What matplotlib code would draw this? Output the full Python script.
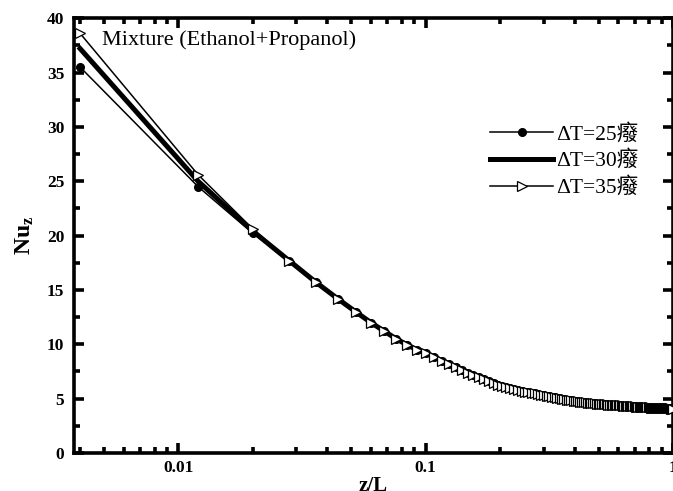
import matplotlib
matplotlib.use("Agg")
import matplotlib.pyplot as plt
import matplotlib.ticker as ticker

# 軸向位置 z/L
z_L = [0.004, 0.012, 0.020, 0.028, 0.036, 0.044, 0.052, 0.060, 0.068, 0.076,
       0.084, 0.092, 0.100, 0.108, 0.116, 0.124, 0.132, 0.140, 0.148, 0.156,
       0.164, 0.172, 0.180, 0.188, 0.196, 0.204, 0.212, 0.220, 0.228, 0.236,
       0.244, 0.252, 0.260, 0.268, 0.276, 0.284, 0.292, 0.300, 0.308, 0.316,
       0.324, 0.332, 0.340, 0.348, 0.356, 0.364, 0.372, 0.380, 0.388, 0.396,
       0.404, 0.412, 0.420, 0.428, 0.436, 0.444, 0.452, 0.460, 0.468, 0.476,
       0.484, 0.492, 0.500, 0.508, 0.516, 0.524, 0.532, 0.540, 0.548, 0.556,
       0.564, 0.572, 0.580, 0.588, 0.596, 0.604, 0.612, 0.620, 0.628, 0.636,
       0.644, 0.652, 0.660, 0.668, 0.676, 0.684, 0.692, 0.700, 0.708, 0.716,
       0.724, 0.732, 0.740, 0.748, 0.756, 0.764, 0.772, 0.780, 0.788, 0.796,
       0.804, 0.812, 0.820, 0.828, 0.836, 0.844, 0.852, 0.860, 0.868, 0.876,
       0.884, 0.892, 0.900, 0.908, 0.916, 0.924, 0.932, 0.940, 0.948, 0.956,
       0.964, 0.972, 0.980, 0.988, 0.996]

# 入口段三條曲線不同(前三點)
head_25 = [35.5, 24.5, 20.2]
head_30 = [37.2, 25.0, 20.4]
head_35 = [38.6, 25.6, 20.6]

# 之後三條曲線幾乎重疊
nu_tail = [17.7, 15.7, 14.2, 13.0, 12.0, 11.2, 10.5, 9.95, 9.5, 9.2,
           8.85, 8.5, 8.2, 7.9, 7.65, 7.4, 7.18, 6.97, 6.78, 6.6,
           6.44, 6.29, 6.16, 6.05, 5.95, 5.86, 5.78, 5.71, 5.65, 5.62,
           5.56, 5.50, 5.44, 5.38, 5.33, 5.28, 5.23, 5.18, 5.13, 5.08,
           5.04, 5.00, 4.96, 4.92, 4.88, 4.84, 4.80, 4.77, 4.74, 4.71,
           4.69, 4.67, 4.65, 4.63, 4.61, 4.59, 4.58, 4.56, 4.55, 4.53,
           4.52, 4.51, 4.49, 4.48, 4.47, 4.46, 4.45, 4.44, 4.43, 4.42,
           4.41, 4.40, 4.39, 4.38, 4.37, 4.36, 4.35, 4.34, 4.33, 4.32,
           4.31, 4.30, 4.29, 4.29, 4.28, 4.27, 4.26, 4.25, 4.25, 4.24,
           4.23, 4.23, 4.22, 4.21, 4.21, 4.20, 4.19, 4.19, 4.18, 4.18,
           4.17, 4.17, 4.16, 4.16, 4.15, 4.15, 4.14, 4.14, 4.13, 4.13,
           4.12, 4.12, 4.12, 4.11, 4.11, 4.11, 4.10, 4.10, 4.10, 4.09,
           4.09, 4.09]

nu_25 = head_25 + nu_tail
nu_30 = head_30 + nu_tail
nu_35 = head_35 + nu_tail

labels = ["ΔT=25癈", "ΔT=30癈", "ΔT=35癈"]
y_ticks = [0, 5, 10, 15, 20, 25, 30, 35, 40]

serif = "Liberation Serif"
plt.rcParams['font.family'] = [serif, 'Noto Sans CJK TC', 'DejaVu Sans']
plt.rcParams['mathtext.fontset'] = 'custom'
plt.rcParams['mathtext.rm'] = serif
plt.rcParams['mathtext.it'] = serif + ':italic'
plt.rcParams['mathtext.bf'] = serif + ':bold'

fig = plt.figure(figsize=(6.73, 4.91), dpi=100)
ax = fig.add_axes([0.110, 0.0774, 0.890, 0.8856])

ax.plot(z_L, nu_25, color='black', lw=1.1, marker='o', ms=5.5,
        mfc='black', mec='black', label=labels[0], clip_on=False, zorder=3)
ax.plot(z_L, nu_30, color='black', lw=3.6, label=labels[1], zorder=4)
ax.plot(z_L, nu_35, color='black', lw=1.1, marker='>', ms=7,
        mfc='white', mec='black', mew=0.9, label=labels[2], clip_on=False, zorder=5)

ax.set_xscale('log')
ax.set_xlim(0.00378, 1.0)
ax.set_ylim(0, 40)
ax.set_yticks(y_ticks)
ax.yaxis.set_minor_locator(ticker.MultipleLocator(2.5))
ax.xaxis.set_major_formatter(ticker.FormatStrFormatter('%g'))
ax.xaxis.set_minor_formatter(ticker.NullFormatter())

for s in ax.spines.values():
    s.set_linewidth(2.6)
ax.tick_params(which='both', direction='in', top=True, right=True, width=2.6)
ax.tick_params(which='major', length=7, pad=5)
ax.tick_params(which='minor', length=4)
for t in ax.get_xticklabels() + ax.get_yticklabels():
    t.set_fontweight('bold')
    t.set_fontsize(12.5)
ax.tick_params(axis='y', pad=7)

ax.set_xlabel('z/L', fontsize=15, fontweight='bold', labelpad=0)
ax.set_ylabel(r'$\mathbf{Nu_z}$', fontsize=17, labelpad=8)

ax.text(0.0049, 38.0, 'Mixture (Ethanol+Propanol)', fontsize=16,
        va='center', ha='left')

ax.legend(loc='center left', bbox_to_anchor=(0.677, 0.672), frameon=False,
          fontsize=15.5, handlelength=2.9, handletextpad=0.15,
          labelspacing=0.28, borderpad=0)

fig.savefig('out.png', dpi=100)
